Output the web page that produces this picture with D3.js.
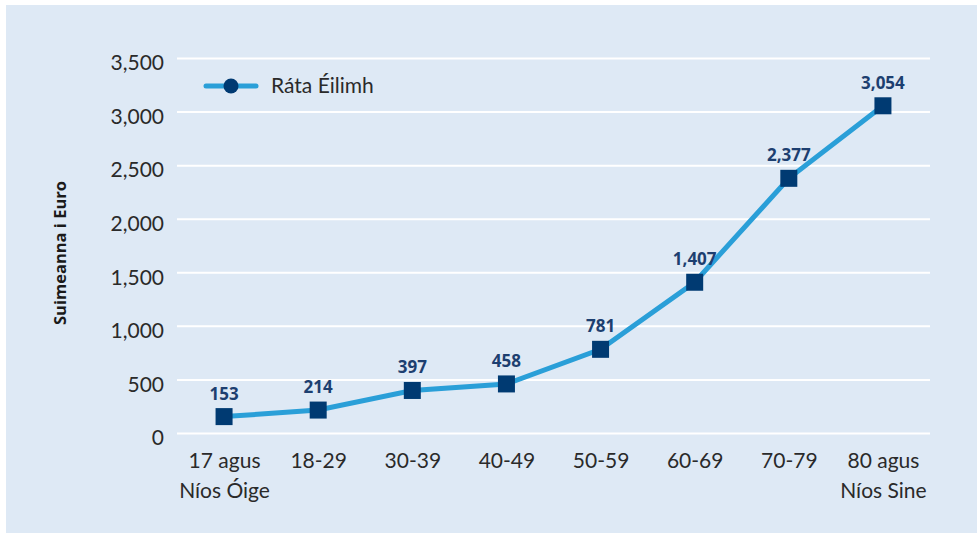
<!DOCTYPE html>
<html>
<head>
<meta charset="utf-8">
<script src="https://cdn.jsdelivr.net/npm/d3@7"></script>
<style>
  body { margin: 0; background: #fff; }
  svg { display: block; }
</style>
</head>
<body>
<div id="chart"></div>
<script>
const width = 977;
const height = 533;
const margin = { top: 58, right: 47, bottom: 100, left: 177 };

const categories = ["17 agus|Níos Óige", "18-29", "30-39", "40-49", "50-59", "60-69", "70-79", "80 agus|Níos Sine"];
const values = [153, 214, 397, 458, 781, 1407, 2377, 3054];
const yTicks = [0, 500, 1000, 1500, 2000, 2500, 3000, 3500];
const seriesName = "Ráta Éilimh";
const yLabel = "Suimeanna i Euro";

const font = "Lato, 'Open Sans', sans-serif";
const boldFont = "'Open Sans', sans-serif";

const svg = d3
  .select("#chart")
  .append("svg")
  .attr("width", width)
  .attr("height", height);

// panel background
svg
  .append("rect")
  .attr("x", 6)
  .attr("y", 5)
  .attr("width", width - 6)
  .attr("height", height - 5)
  .attr("fill", "#dee9f5");

const xScale = d3
  .scalePoint()
  .domain(categories)
  .range([margin.left, width - margin.right])
  .padding(0.5);

const yScale = d3
  .scaleLinear()
  .domain([0, 3500])
  .range([433, margin.top]);

// gridlines + y tick labels
const yAxis = svg
  .append("g")
  .attr("transform", `translate(${margin.left},0)`)
  .call(
    d3.axisLeft(yScale)
      .tickValues(yTicks)
      .tickSize(-(width - margin.right - margin.left))
      .tickPadding(13)
      .tickFormat(d3.format(","))
  );
yAxis.select(".domain").remove();
yAxis.selectAll(".tick line").attr("stroke", "#ffffff").attr("stroke-width", 2);
yAxis
  .selectAll(".tick text")
  .attr("fill", "#2a2a2a")
  .attr("font-family", font)
  .attr("font-size", "21px")
  .attr("transform", "translate(0,5)");

// x labels
const xAxis = svg
  .append("g")
  .attr("transform", "translate(0,433)")
  .call(d3.axisBottom(xScale).tickSize(0).tickFormat(""));
xAxis.select(".domain").remove();
xAxis.selectAll(".tick").each(function (d) {
  const lines = d.split("|");
  const t = d3
    .select(this)
    .append("text")
    .attr("fill", "#2a2a2a")
    .attr("font-family", font)
    .attr("font-size", "21px")
    .attr("text-anchor", "middle");
  lines.forEach((l, i) => {
    t.append("tspan").attr("x", 0).attr("y", 35 + i * 30).text(l);
  });
});

// y axis title
svg
  .append("text")
  .attr("transform", `translate(66,253) rotate(-90)`)
  .attr("text-anchor", "middle")
  .attr("font-family", boldFont)
  .attr("font-weight", "bold")
  .attr("font-size", "16.5px")
  .attr("fill", "#1a1a1a")
  .text(yLabel);

// line
const line = d3
  .line()
  .x((d, i) => xScale(categories[i]))
  .y((d) => yScale(d));

svg
  .append("path")
  .datum(values)
  .attr("d", line)
  .attr("fill", "none")
  .attr("stroke", "#2a9fd8")
  .attr("stroke-width", 5);

// markers
const sz = 17;
svg
  .selectAll("rect.marker")
  .data(values)
  .enter()
  .append("rect")
  .attr("class", "marker")
  .attr("x", (d, i) => xScale(categories[i]) - sz / 2)
  .attr("y", (d) => yScale(d) - sz / 2)
  .attr("width", sz)
  .attr("height", sz)
  .attr("fill", "#003a72");

// value labels
svg
  .selectAll("text.val")
  .data(values)
  .enter()
  .append("text")
  .attr("class", "val")
  .attr("x", (d, i) => xScale(categories[i]))
  .attr("y", (d) => yScale(d) - 17)
  .attr("text-anchor", "middle")
  .attr("font-family", boldFont)
  .attr("font-weight", "bold")
  .attr("font-size", "17px")
  .attr("fill", "#1d3f70")
  .text((d) => d3.format(",")(d));

// legend
const legend = svg.append("g").attr("transform", "translate(206,86)");
legend
  .append("line")
  .attr("x1", 0)
  .attr("x2", 50)
  .attr("stroke", "#2a9fd8")
  .attr("stroke-width", 5)
  .attr("stroke-linecap", "round");
legend
  .append("circle")
  .attr("cx", 25)
  .attr("r", 7.5)
  .attr("fill", "#003a72");
legend
  .append("text")
  .attr("x", 65)
  .attr("y", 0)
  .attr("dy", "0.35em")
  .attr("font-family", font)
  .attr("font-size", "21px")
  .attr("fill", "#2a2a2a")
  .text(seriesName);
</script>
</body>
</html>
